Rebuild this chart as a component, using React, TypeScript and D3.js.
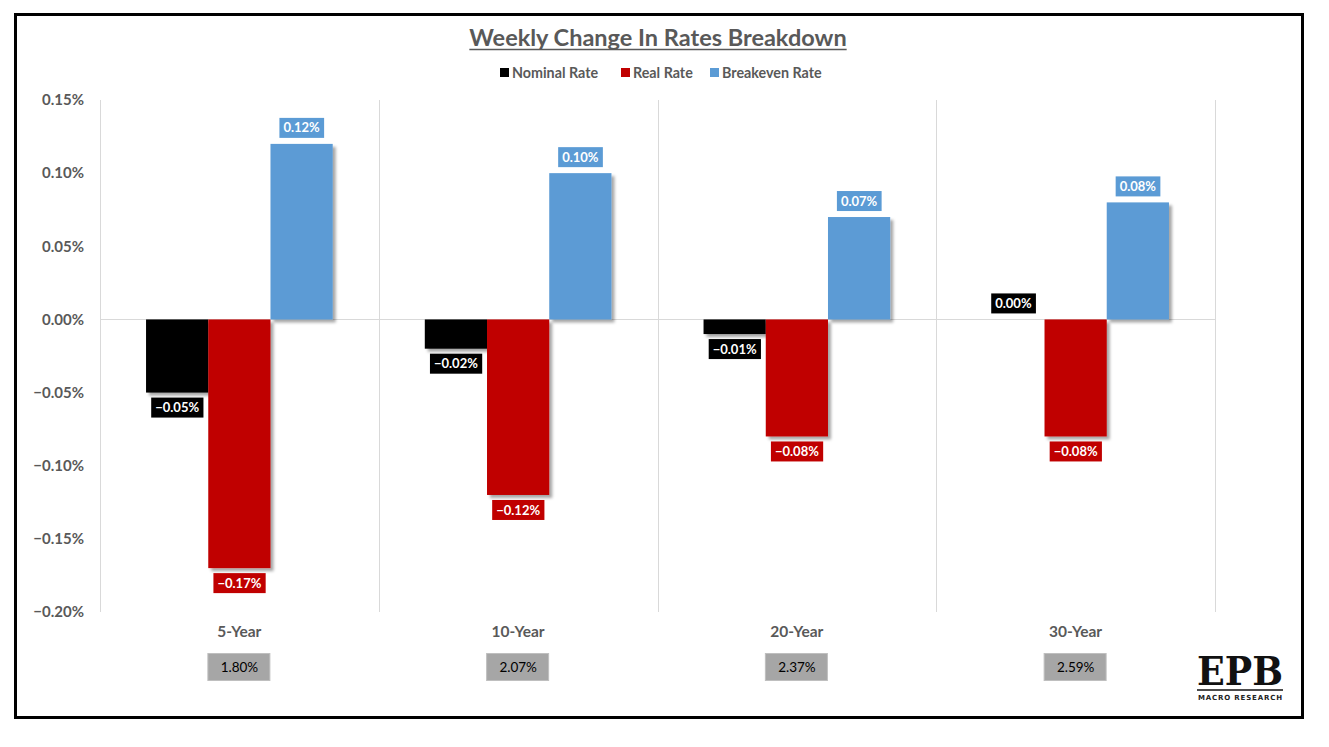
import { useEffect, useRef } from "react";
import * as d3 from "d3";

const categories = ["5-Year", "10-Year", "20-Year", "30-Year"];
const seriesNames = ["Nominal Rate", "Real Rate", "Breakeven Rate"];
const nominal = [-0.05, -0.02, -0.01, 0.0];
const real = [-0.17, -0.12, -0.08, -0.08];
const breakeven = [0.12, 0.1, 0.07, 0.08];
const yields = ["1.80%", "2.07%", "2.37%", "2.59%"];
const yTicks = [0.15, 0.1, 0.05, 0, -0.05, -0.1, -0.15, -0.2];

const colors = ["#000000", "#c00000", "#5b9bd5"];
const W = 1329;
const H = 747;
const FONT = "Lato, 'Open Sans', sans-serif";

export default function App() {
  const svgRef = useRef<SVGSVGElement>(null);

  useEffect(() => {
    if (!svgRef.current) return;
    document.body.style.margin = "0";
    const svg = d3.select(svgRef.current);
    svg.selectAll("*").remove();

    const margin = { left: 100, right: 114, top: 100, bottom: 135 };
    const width = W - margin.left - margin.right;

    // outer frame
    svg
      .append("rect")
      .attr("x", 15.5)
      .attr("y", 14.5)
      .attr("width", 1287)
      .attr("height", 703)
      .attr("fill", "white")
      .attr("stroke", "black")
      .attr("stroke-width", 3);

    const defs = svg.append("defs");
    defs
      .append("filter")
      .attr("id", "shadow")
      .attr("x", "-20%")
      .attr("y", "-20%")
      .attr("width", "150%")
      .attr("height", "150%")
      .append("feDropShadow")
      .attr("dx", 3)
      .attr("dy", 3)
      .attr("stdDeviation", 1.8)
      .attr("flood-color", "#000")
      .attr("flood-opacity", 0.35);

    const x0 = d3
      .scaleBand()
      .domain(categories)
      .range([margin.left, margin.left + width]);
    const x1 = d3
      .scaleBand()
      .domain(seriesNames)
      .range([0, x0.bandwidth()])
      .paddingOuter(0.74)
      .paddingInner(0);
    const y = d3.scaleLinear().domain([-0.2, 0.15]).range([612, 100]);

    // gridlines
    const grid = svg.append("g").attr("stroke", "#d9d9d9").attr("stroke-width", 1);
    [...categories.map((c) => x0(c) as number), margin.left + width].forEach((gx) => {
      grid
        .append("line")
        .attr("x1", Math.round(gx) + 0.5)
        .attr("x2", Math.round(gx) + 0.5)
        .attr("y1", y(0.15))
        .attr("y2", y(-0.2));
    });
    grid
      .append("line")
      .attr("x1", margin.left)
      .attr("x2", margin.left + width)
      .attr("y1", Math.round(y(0)) + 0.5)
      .attr("y2", Math.round(y(0)) + 0.5);

    // y axis labels
    svg
      .append("g")
      .selectAll("text")
      .data(yTicks)
      .enter()
      .append("text")
      .attr("x", 84)
      .attr("y", (d) => y(d))
      .attr("dy", "0.35em")
      .attr("text-anchor", "end")
      .attr("fill", "#595959")
      .style("font-family", FONT)
      .style("font-size", "15px")
      .style("font-weight", "bold")
      .text((d) => d3.format(".2f")(d) + "%");

    // title
    const title = svg
      .append("text")
      .attr("x", 658)
      .attr("y", 46)
      .attr("text-anchor", "middle")
      .attr("fill", "#595959")
      .style("font-family", FONT)
      .style("font-size", "23.5px")
      .style("font-weight", "bold")
      .text("Weekly Change In Rates Breakdown");
    const tb = (title.node() as SVGTextElement).getBBox();
    svg
      .append("line")
      .attr("x1", tb.x)
      .attr("x2", tb.x + tb.width)
      .attr("y1", 49.5)
      .attr("y2", 49.5)
      .attr("stroke", "#595959")
      .attr("stroke-width", 1.5);

    // legend
    const legendX = [500, 621, 710];
    const legend = svg.append("g");
    seriesNames.forEach((name, i) => {
      const g = legend.append("g").attr("transform", `translate(${legendX[i]}, 73)`);
      g.append("rect")
        .attr("x", 0)
        .attr("y", -5)
        .attr("width", 9)
        .attr("height", 9)
        .attr("fill", colors[i]);
      g.append("text")
        .attr("x", 12)
        .attr("y", 0)
        .attr("dy", "0.35em")
        .attr("fill", "#595959")
        .style("font-family", FONT)
        .style("font-size", "14.3px")
        .style("font-weight", "bold")
        .text(name);
    });

    const series = [nominal, real, breakeven];
    const chart = svg.append("g");

    series.forEach((vals, si) => {
      const name = seriesNames[si];
      vals.forEach((v, ci) => {
        const bx = (x0(categories[ci]) as number) + (x1(name) as number);
        const bw = x1.bandwidth();
        if (v !== 0) {
          chart
            .append("rect")
            .attr("x", bx)
            .attr("y", Math.min(y(v), y(0)))
            .attr("width", bw)
            .attr("height", Math.abs(y(v) - y(0)))
            .attr("fill", colors[si])
            .attr("filter", "url(#shadow)");
        }
      });
    });

    // data labels
    const labels = svg.append("g");
    series.forEach((vals, si) => {
      const name = seriesNames[si];
      vals.forEach((v, ci) => {
        const cx = (x0(categories[ci]) as number) + (x1(name) as number) + x1.bandwidth() / 2;
        const g = labels.append("g");
        const ty = v >= 0 ? y(v) - 16 : y(v) + 15;
        const rect = g.append("rect").attr("fill", colors[si]);
        const t = g
          .append("text")
          .attr("x", cx)
          .attr("y", ty)
          .attr("dy", "0.35em")
          .attr("text-anchor", "middle")
          .attr("fill", "white")
          .style("font-family", FONT)
          .style("font-size", "13px")
          .style("font-weight", "bold")
          .text(d3.format(".2f")(v) + "%");
        const b = (t.node() as SVGTextElement).getBBox();
        rect
          .attr("x", b.x - 4)
          .attr("y", ty - 10)
          .attr("width", b.width + 8)
          .attr("height", 20);
      });
    });

    // category labels and yield boxes
    categories.forEach((c, ci) => {
      const cx = (x0(c) as number) + x0.bandwidth() / 2;
      svg
        .append("text")
        .attr("x", cx)
        .attr("y", 632)
        .attr("dy", "0.35em")
        .attr("text-anchor", "middle")
        .attr("fill", "#595959")
        .style("font-family", FONT)
        .style("font-size", "15.5px")
        .style("font-weight", "bold")
        .text(c);
      svg
        .append("rect")
        .attr("x", cx - 31.5)
        .attr("y", 653.5)
        .attr("width", 62)
        .attr("height", 27)
        .attr("fill", "#a6a6a6")
        .attr("stroke", "#bfbfbf")
        .attr("stroke-width", 1);
      svg
        .append("text")
        .attr("x", cx)
        .attr("y", 667)
        .attr("dy", "0.35em")
        .attr("text-anchor", "middle")
        .attr("fill", "#000")
        .style("font-family", FONT)
        .style("font-size", "13.5px")
        .text(yields[ci]);
    });

    // logo
    const logo = svg.append("g");
    logo
      .append("text")
      .attr("x", 1240)
      .attr("y", 685)
      .attr("text-anchor", "middle")
      .attr("fill", "#111")
      .style("font-family", "'DejaVu Serif', 'Liberation Serif', serif")
      .style("font-size", "40px")
      .style("font-weight", "bold")
      .attr("textLength", 86)
      .attr("lengthAdjust", "spacingAndGlyphs")
      .text("EPB");
    logo
      .append("line")
      .attr("x1", 1197)
      .attr("x2", 1283)
      .attr("y1", 690)
      .attr("y2", 690)
      .attr("stroke", "#111")
      .attr("stroke-width", 1.5);
    logo
      .append("text")
      .attr("x", 1240)
      .attr("y", 700)
      .attr("text-anchor", "middle")
      .attr("fill", "#222")
      .style("font-family", "'DejaVu Sans', sans-serif")
      .style("font-size", "7px")
      .style("font-weight", "bold")
      .attr("textLength", 84)
      .attr("lengthAdjust", "spacing")
      .text("MACRO RESEARCH");
  }, []);

  return (
    <svg
      ref={svgRef}
      width={W}
      height={H}
      style={{ position: "absolute", left: 0, top: 0, background: "white" }}
    />
  );
}
